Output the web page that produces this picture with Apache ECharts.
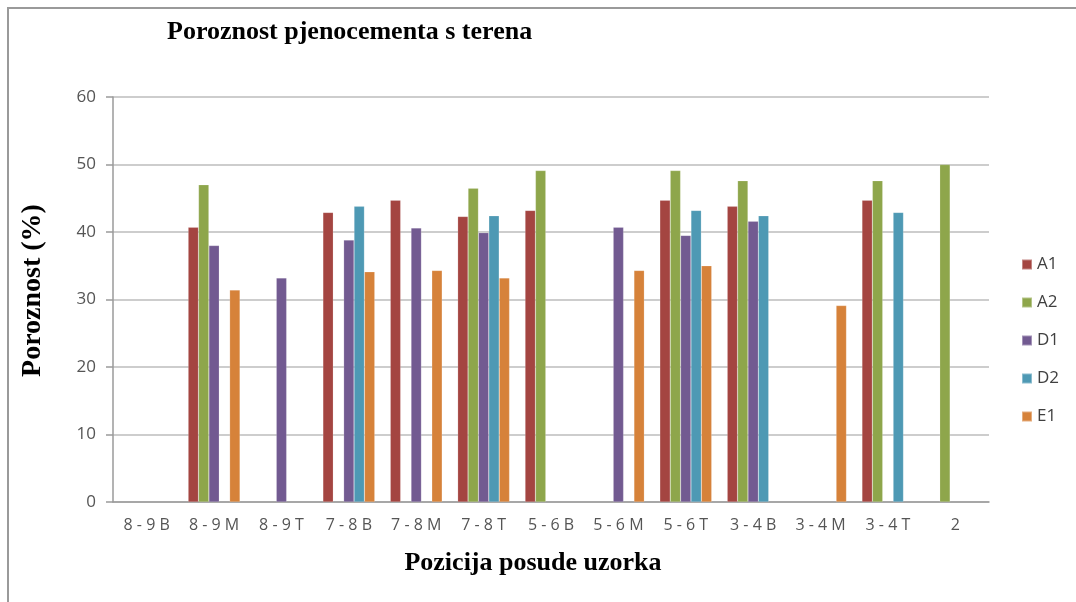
<!DOCTYPE html>
<html>
<head>
<meta charset="utf-8">
<script src="https://cdn.jsdelivr.net/npm/echarts@6/dist/echarts.min.js"></script>
<style>
html,body{margin:0;padding:0;background:#fff;}
#chart{width:1076px;height:602px;}
</style>
</head>
<body>
<div id="chart"></div>
<script>
const categories = ['8 - 9 B','8 - 9 M','8 - 9 T','7 - 8 B','7 - 8 M','7 - 8 T','5 - 6 B','5 - 6 M','5 - 6 T','3 - 4 B','3 - 4 M','3 - 4 T','2'];
const seriesNames = ['A1','A2','D1','D2','E1'];
const A1 = [null,40.7,null,42.9,44.7,42.3,43.2,null,44.7,43.8,null,44.7,null];
const A2 = [null,47.0,null,null,null,46.5,49.1,null,49.1,47.6,null,47.6,50.0];
const D1 = [null,38.0,33.2,38.8,40.6,39.9,null,40.7,39.5,41.6,null,null,null];
const D2 = [null,null,null,43.8,null,42.4,null,null,43.2,42.4,null,42.9,null];
const E1 = [null,31.4,null,34.1,34.3,33.2,null,34.3,35.0,null,29.1,null,null];
const yTicks = [0,10,20,30,40,50,60];

const colors = ['#A44541','#8EA64B','#725A91','#4E99B4','#D6823A'];
const dataSets = [A1,A2,D1,D2,E1];

const chart = echarts.init(document.getElementById('chart'), null, {renderer:'canvas'});
chart.setOption({
  animation:false,
  backgroundColor:'#fff',
  color: colors,
  title:{
    text:'Poroznost pjenocementa s terena',
    left:162, top:14,
    textStyle:{fontFamily:'Liberation Serif', fontWeight:'bold', fontSize:26, color:'#000'}
  },
  legend:{
    orient:'vertical',
    left:1016, top:251,
    itemWidth:10, itemHeight:10, itemGap:21,
    icon:'rect',
    data: seriesNames,
    textStyle:{fontFamily:'Open Sans', fontSize:17, color:'#404040'}
  },
  grid:{left:113, right:87, top:97, bottom:100, containLabel:false},
  xAxis:{
    type:'category',
    data:categories,
    name:'Pozicija posude uzorka',
    nameLocation:'middle',
    nameGap:48,
    nameTextStyle:{fontFamily:'Liberation Serif', fontWeight:'bold', fontSize:26, color:'#000', padding:[0,36,0,0]},
    axisLine:{lineStyle:{color:'#9a9a9a', width:1.5}},
    axisTick:{show:false},
    axisLabel:{fontFamily:'Open Sans', fontSize:16, color:'#555', margin:15, interval:0}
  },
  yAxis:{
    type:'value',
    min:yTicks[0], max:yTicks[yTicks.length-1], interval:10,
    name:'Poroznost (%)',
    nameLocation:'middle',
    nameGap:66,
    nameRotate:90,
    nameTextStyle:{fontFamily:'Liberation Serif', fontWeight:'bold', fontSize:28, color:'#000', padding:[0,0,0,18]},
    axisLine:{show:true, lineStyle:{color:'#9a9a9a', width:1.5}},
    axisTick:{show:true, length:7, lineStyle:{color:'#9a9a9a', width:1.5}},
    axisLabel:{fontFamily:'Open Sans', fontSize:17, color:'#555', margin:17},
    splitLine:{lineStyle:{color:'#cdcdcd', width:2}}
  },
  series: seriesNames.map((n,i)=>({
    name:n,
    type:'bar',
    data:dataSets[i],
    barGap:'0%',
    barCategoryGap:'23%',
    itemStyle:{color:colors[i], borderColor:'rgba(255,255,255,0.35)', borderWidth:0.5}
  })),
  graphic:[
    {type:'line', shape:{x1:7, y1:8, x2:1076, y2:8}, style:{stroke:'#9a9a9a', lineWidth:2}},
    {type:'line', shape:{x1:8, y1:7, x2:8, y2:602}, style:{stroke:'#9a9a9a', lineWidth:2}}
  ]
});
</script>
</body>
</html>
